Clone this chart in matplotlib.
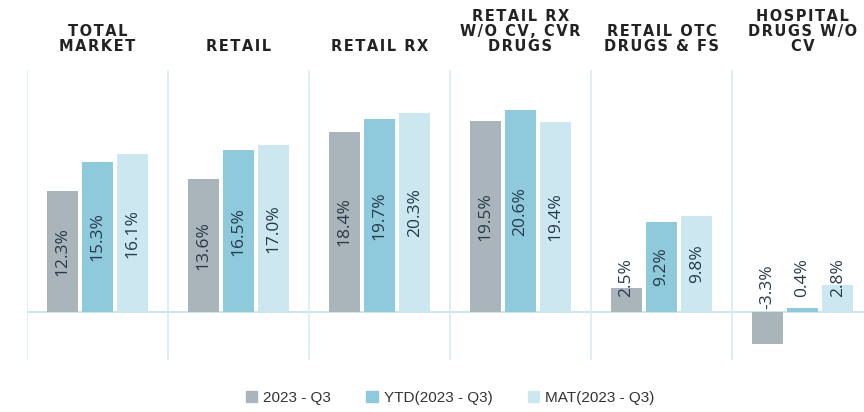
import numpy as np
import matplotlib.pyplot as plt
from matplotlib.patches import Patch

# Data
categories = ["TOTAL\nMARKET", "RETAIL", "RETAIL RX",
              "RETAIL RX\nW/O CV, CVR\nDRUGS", "RETAIL OTC\nDRUGS & FS",
              "HOSPITAL\nDRUGS W/O\nCV"]
series_names = ["2023 - Q3", "YTD(2023 - Q3)", "MAT(2023 - Q3)"]
q3_2023 = [12.3, 13.6, 18.4, 19.5, 2.5, -3.3]
ytd_2023 = [15.3, 16.5, 19.7, 20.6, 9.2, 0.4]
mat_2023 = [16.1, 17.0, 20.3, 19.4, 9.8, 2.8]

colors = ["#a9b5bb", "#8ecadb", "#cce7ef"]
line_col = "#d6ecf3"
text_col = "#27394a"

W, H = 864, 412
fig = plt.figure(figsize=(W / 100, H / 100), dpi=100)
# axes stretch a bit past the right edge, as in the reference crop
ax = fig.add_axes([27 / W, 52 / H, 846 / W, 290 / H])

x = np.arange(len(categories))
offs = [-0.25, 0.0, 0.25]
bw = 0.22
all_series = [q3_2023, ytd_2023, mat_2023]

for s, vals in enumerate(all_series):
    ax.bar(x + offs[s], vals, width=bw, color=colors[s], zorder=2)
    for xi, v in zip(x, vals):
        if v > 6:
            yt = v / 2
        elif v >= 0:
            yt = 3.5
        else:
            yt = 2.6
        ax.text(xi + offs[s], yt, f"{v:.1f}%", rotation=90, ha="center",
                va="center", fontsize=12.5, color=text_col, zorder=3,
                family="Open Sans")

ax.set_xlim(-0.5, len(categories) - 0.5)
ax.set_ylim(-4.9, 24.7)
ax.axhline(0, color="#c2e1eb", lw=1.2, zorder=1)
for b in np.arange(-0.5, len(categories), 1.0):
    ax.axvline(b, color=line_col, lw=1.2, zorder=1)

for sp in ax.spines.values():
    sp.set_visible(False)
ax.set_xticks([])
ax.set_yticks([])

# headers above each group (letter-spaced)
for xi, cat in zip(x, categories):
    spaced = "\n".join("\u200a".join(line) for line in cat.split("\n"))
    ax.text(xi, 1.0 + 16 / 290, spaced, transform=ax.get_xaxis_transform(),
            ha="center", va="bottom", fontsize=10.5, fontweight="bold",
            color="#222222", linespacing=0.98, multialignment="center")

handles = [Patch(color=c) for c in colors]
fig.legend(handles, series_names, loc="center", bbox_to_anchor=(450 / W, 1 - 398 / H),
           ncol=3, frameon=False, prop={"family": "Liberation Sans", "size": 11},
           handlelength=0.75, handleheight=0.75, handletextpad=0.4,
           columnspacing=2.3, labelcolor="#333333")

fig.savefig("out.png", dpi=100)
